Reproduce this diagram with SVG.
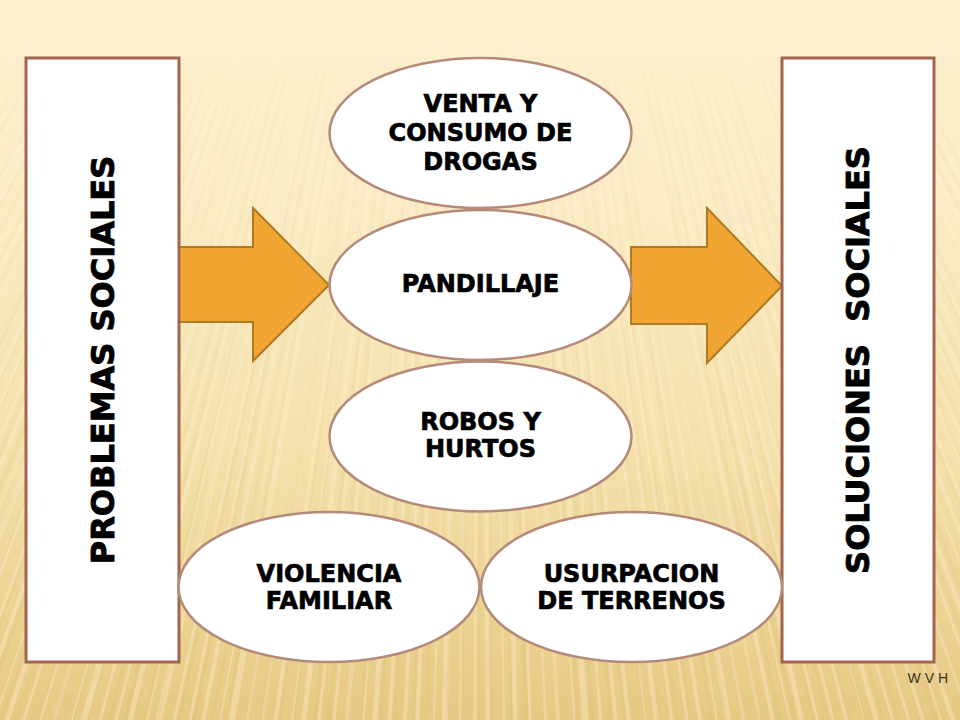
<svg xmlns="http://www.w3.org/2000/svg" width="960" height="720" viewBox="0 0 960 720">
  <defs>
    <linearGradient id="bg" x1="0" y1="0" x2="0" y2="1">
      <stop offset="0" stop-color="#FDF1CF"/>
      <stop offset="0.3" stop-color="#FBEBC3"/>
      <stop offset="0.65" stop-color="#F4DFA8"/>
      <stop offset="1" stop-color="#E6C982"/>
    </linearGradient>
    <linearGradient id="fade" x1="0" y1="0" x2="0" y2="720" gradientUnits="userSpaceOnUse">
      <stop offset="0" stop-color="#000"/>
      <stop offset="0.06" stop-color="#000"/>
      <stop offset="0.25" stop-color="#fff" stop-opacity="0.6"/>
      <stop offset="1" stop-color="#fff"/>
    </linearGradient>
    <mask id="streakMask" maskUnits="userSpaceOnUse" x="0" y="0" width="960" height="720">
      <rect x="0" y="0" width="960" height="720" fill="url(#fade)"/>
    </mask>
    <style>
      .box { fill: #FFFFFF; stroke: #A3654F; stroke-width: 3; }
      .oval { fill: #FFFFFF; stroke: #B48A7A; stroke-width: 2.5; }
      .arrow { fill: #F0A532; stroke: #AE7A22; stroke-width: 2; stroke-linejoin: miter; }
      .lbl { font-family: "DejaVu Sans", "Liberation Sans", Arial, sans-serif; font-weight: bold; font-size: 24px; fill: #000; stroke: #000; stroke-width: 0.7; text-anchor: middle; }
      .vlbl { font-family: "DejaVu Sans", "Liberation Sans", Arial, sans-serif; font-weight: bold; font-size: 32px; fill: #000; stroke: #000; stroke-width: 0.9; text-anchor: middle; }
      .sig { font-family: "Liberation Sans", Arial, sans-serif; font-size: 14px; fill: #3A3020; text-anchor: end; }
    </style>
  </defs>

  <!-- background -->
  <rect x="0" y="0" width="960" height="720" fill="url(#bg)"/>
  <g mask="url(#streakMask)">
    <circle cx="480" cy="-700" r="950" fill="none" stroke="#FFF9E6" stroke-opacity="0.3" stroke-width="1300" stroke-dasharray="3 6 5 4 2 8 4 5 3 7"/>
    <circle cx="480" cy="-700" r="950" fill="none" stroke="#C9A45A" stroke-opacity="0.09" stroke-width="1300" stroke-dasharray="2 9 4 6 3 11 2 7" stroke-dashoffset="4"/>
  </g>

  <!-- connectors (block arrows) -->
  <g id="connectors">
    <polygon class="arrow" points="179,247 253,247 253,208 329,285 253,361 253,322 179,322"/>
    <polygon class="arrow" points="631,247 707,247 707,208 782,286 707,363 707,324 631,324"/>
  </g>

  <g id="problemas">
    <rect class="box" x="26" y="58" width="153" height="604"/>
    <text class="vlbl" transform="translate(114,360) rotate(-90)">PROBLEMAS SOCIALES</text>
  </g>

  <g id="soluciones">
    <rect class="box" x="782" y="58" width="152" height="604"/>
    <text class="vlbl" xml:space="preserve" transform="translate(869,360) rotate(-90)">SOLUCIONES  SOCIALES</text>
  </g>

  <g id="drogas">
    <ellipse class="oval" cx="480.5" cy="133" rx="151" ry="75"/>
    <text class="lbl" x="480.5" y="112">VENTA Y</text>
    <text class="lbl" x="480.5" y="141">CONSUMO DE</text>
    <text class="lbl" x="480.5" y="170">DROGAS</text>
  </g>

  <g id="pandillaje">
    <ellipse class="oval" cx="480.5" cy="285" rx="151" ry="75"/>
    <text class="lbl" x="480.5" y="292">PANDILLAJE</text>
  </g>

  <g id="robos">
    <ellipse class="oval" cx="480.5" cy="436.5" rx="151" ry="75"/>
    <text class="lbl" x="480.5" y="430">ROBOS Y</text>
    <text class="lbl" x="480.5" y="457">HURTOS</text>
  </g>

  <g id="violencia">
    <ellipse class="oval" cx="329" cy="587" rx="150.5" ry="75"/>
    <text class="lbl" x="329" y="582">VIOLENCIA</text>
    <text class="lbl" x="329" y="609">FAMILIAR</text>
  </g>

  <g id="usurpacion">
    <ellipse class="oval" cx="631.5" cy="587" rx="150.5" ry="75"/>
    <text class="lbl" x="631.5" y="582">USURPACION</text>
    <text class="lbl" x="631.5" y="609">DE TERRENOS</text>
  </g>

  <text class="sig" x="948" y="683">W V H</text>
</svg>
